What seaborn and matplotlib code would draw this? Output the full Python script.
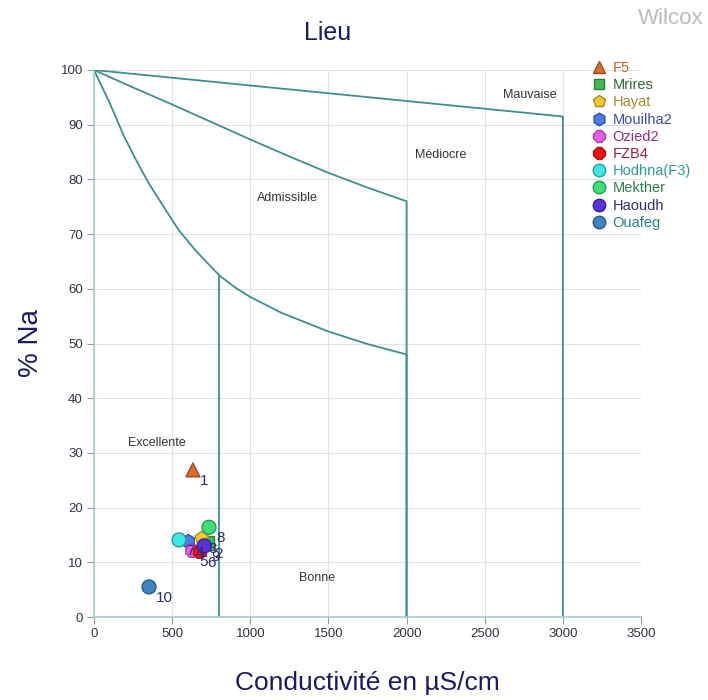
import numpy as np
import pandas as pd
import matplotlib
matplotlib.use("Agg")
import matplotlib.pyplot as plt
from matplotlib.lines import Line2D
import seaborn as sns

# sample points (conductivity uS/cm, % Na)
names = ['F5', 'Mrires', 'Hayat', 'Mouilha2', 'Ozied2', 'FZB4',
         'Hodhna(F3)', 'Mekther', 'Haoudh', 'Ouafeg']
cond = [633, 723, 689, 603, 629, 678, 544, 736, 706, 352]
na_pct = [26.9, 13.6, 14.4, 13.8, 12.1, 11.9, 14.1, 16.4, 13.0, 5.5]
point_labels = ['1', '2', '3', '4', '5', '6', '7', '8', '9', '10']

fill_colors = ['#E06A2B', '#3DBE4D', '#F2C832', '#4F7BE8', '#E85CE8',
               '#EE1111', '#3EE6E6', '#3EDE78', '#5A34D8', '#3E86C0']
edge_colors = ['#9A4A20', '#2A7A35', '#A88A20', '#2F4FA0', '#A040A0',
               '#A01010', '#2A9A9A', '#2A9A50', '#3A2090', '#2A5A85']
text_colors = ['#C0642D', '#2F6B2F', '#A38B2D', '#3A4FA8', '#8E2E8E',
               '#9A2440', '#2E9C9C', '#2E7D4F', '#2B2B7A', '#2E7F7F']
marker_shapes = ['^', 's', 'p', 'h', '8', '8', 'o', 'o', 'o', 'o']

# Wilcox boundary lines
top_x = [0, 3000, 3000]
top_y = [100, 91.5, 0]
mid_x = [0, 250, 500, 750, 1000, 1250, 1500, 1750, 2000, 2000]
mid_y = [100, 96.8, 93.7, 90.5, 87.3, 84.2, 81.2, 78.5, 76, 0]
low_x = [0, 100, 190, 270, 350, 450, 540, 650, 800, 900, 1000, 1200,
         1500, 1750, 2000, 2000]
low_y = [100, 94, 88, 83.5, 79.3, 74.8, 70.8, 67.0, 62.5, 60.3, 58.5,
         55.6, 52.2, 49.9, 48, 0]
vert_x = [800, 800]
vert_y = [62.5, 0]

zones = ['Mauvaise', 'Médiocre', 'Admissible', 'Excellente', 'Bonne']
zone_x = [2790, 2220, 1240, 400, 1430]
zone_y = [95.4, 84.5, 76.6, 31.8, 7.1]

sns.set_theme(style="whitegrid")
plt.rcParams['font.family'] = ['Liberation Sans', 'DejaVu Sans']

df = pd.DataFrame({'name': names, 'cond': cond, 'na': na_pct})

fig = plt.figure(figsize=(7.08, 7.00), dpi=100)
ax = fig.add_axes([94 / 708, 1 - 617 / 700, 547 / 708, 547 / 700])

line_col = '#3F8E8E'
for xs, ys in [(top_x, top_y), (mid_x, mid_y), (low_x, low_y), (vert_x, vert_y)]:
    ax.plot(xs, ys, color=line_col, lw=1.3, zorder=2)

sns.scatterplot(data=df, x='cond', y='na', hue='name', style='name',
                palette=dict(zip(names, fill_colors)),
                markers=dict(zip(names, marker_shapes)),
                s=100, legend=False, ax=ax, zorder=3, linewidth=1)
ax.collections[-1].set_edgecolors(edge_colors)

for lab, xv, yv in zip(point_labels, cond, na_pct):
    ax.annotate(lab, (xv, yv), xytext=(5, -8), textcoords='offset points',
                ha='left', va='center', fontsize=11, color='#2A2A7A', zorder=4)

for z, xv, yv in zip(zones, zone_x, zone_y):
    ax.text(xv, yv, z, ha='center', va='center', fontsize=9, color='#333333')

ax.set_xlim(0, 3500)
ax.set_ylim(0, 100)
ax.set_xticks(np.arange(0, 3501, 500))
ax.set_yticks(np.arange(0, 101, 10))
ax.grid(True, color='#E3E3E3', lw=0.8)
ax.tick_params(axis='both', which='both', direction='out', length=5, width=0.8,
               color='#999999', labelsize=9.5, labelcolor='#333344',
               bottom=True, left=True, pad=3)
for side in ['top', 'right']:
    ax.spines[side].set_visible(False)
for side in ['left', 'bottom']:
    ax.spines[side].set_color('#9CCFCF')
    ax.spines[side].set_linewidth(1.2)

ax.set_xlabel('Conductivité en µS/cm', fontsize=19, color='#1A1A66', labelpad=22)
ax.set_ylabel('% Na', fontsize=20, color='#1A1A66', labelpad=12)
fig.text(328 / 708, 1 - 33 / 700, 'Lieu', fontsize=18, color='#1A1A66',
         ha='center', va='center')
fig.text(671 / 708, 1 - 19 / 700, 'Wilcox', fontsize=16, color='#BBBBBB',
         ha='center', va='center')

handles = [Line2D([], [], ls='', marker=m, markersize=9 if m != 's' else 7,
                  markerfacecolor=fc, markeredgecolor=ec, markeredgewidth=1)
           for m, fc, ec in zip(marker_shapes, fill_colors, edge_colors)]
leg = fig.legend(handles, names, loc='upper left',
                 bbox_to_anchor=(590 / 708, 1 - 61 / 700), frameon=False,
                 fontsize=10.5, labelspacing=0.22, handletextpad=0.35,
                 handlelength=1.2, borderaxespad=0, borderpad=0)
for t, c in zip(leg.get_texts(), text_colors):
    t.set_color(c)

fig.savefig('out.png', dpi=100)
